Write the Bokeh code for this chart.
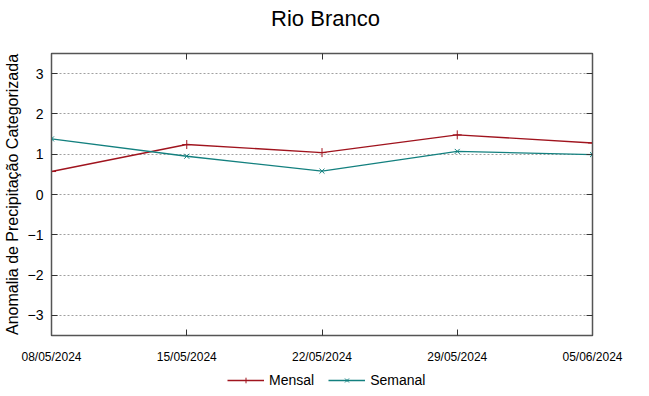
from bokeh.plotting import figure
from bokeh.layouts import column
from bokeh.models import (FixedTicker, LinearAxis, Legend, LegendItem, Range1d, Label)
from bokeh.embed import file_html
from bokeh.resources import INLINE

title_text = "Rio Branco"
dates = ["08/05/2024", "15/05/2024", "22/05/2024", "29/05/2024", "05/06/2024"]
days = [0, 7, 14, 21, 28]
mensal = [0.57, 1.24, 1.04, 1.48, 1.28]
semanal = [1.38, 0.95, 0.58, 1.07, 0.99]
yticks = [-3, -2, -1, 0, 1, 2, 3]

RED = "#a0141e"
TEAL = "#13807f"
FONT = "Liberation Sans"

# title strip
tp = figure(width=633, height=36, output_backend="svg", toolbar_location=None,
            x_range=Range1d(0, 1), y_range=Range1d(0, 1),
            min_border_left=0, min_border_right=0, min_border_top=0,
            min_border_bottom=0, outline_line_color=None)
tp.axis.visible = False
tp.grid.visible = False
tp.add_layout(Label(x=274, y=18, x_units="screen", y_units="screen", text=title_text,
                    text_align="center", text_baseline="middle",
                    text_font=FONT, text_font_size="22px", text_color="#000000"))

p = figure(width=633, height=330, output_backend="svg", toolbar_location=None,
           x_range=Range1d(0, 28), y_range=Range1d(-3.5, 3.5),
           min_border_left=42, min_border_right=41, min_border_top=17,
           min_border_bottom=31)

p.outline_line_color = "#555555"
p.outline_line_width = 1.5

p.xgrid.visible = False
p.ygrid.grid_line_color = "#a0a0a0"
p.ygrid.grid_line_dash = "2 2"
p.ygrid.ticker = FixedTicker(ticks=yticks)

xa = p.xaxis[0]
xa.ticker = FixedTicker(ticks=days)
xa.major_label_overrides = {d: s for d, s in zip(days, dates)}
xa.major_label_text_font = FONT
xa.major_label_text_font_size = "12px"
xa.major_label_text_color = "#000000"
xa.major_label_standoff = 14
xa.major_tick_in = 6
xa.major_tick_out = 0
xa.minor_tick_line_color = None
xa.axis_line_color = "#555555"
xa.major_tick_line_color = "#333333"

ya = p.yaxis[0]
ya.ticker = FixedTicker(ticks=yticks)
ya.major_label_text_font = FONT
ya.major_label_text_font_size = "14px"
ya.major_label_text_color = "#000000"
ya.major_label_standoff = 8
ya.major_tick_in = 6
ya.major_tick_out = 0
ya.minor_tick_line_color = None
ya.axis_line_color = "#555555"
ya.major_tick_line_color = "#333333"
ya.axis_label = "Anomalia de Precipitação Categorizada"
ya.axis_label_text_font = FONT
ya.axis_label_text_font_size = "16px"
ya.axis_label_text_font_style = "normal"
ya.axis_label_text_color = "#000000"
ya.axis_label_standoff = 4

ra = LinearAxis(ticker=FixedTicker(ticks=yticks), major_label_text_font_size="8px",
                major_label_text_alpha=0,
                major_tick_in=6, major_tick_out=0, minor_tick_line_color=None,
                axis_line_color="#555555", major_tick_line_color="#333333",
                major_label_standoff=0)
p.add_layout(ra, "right")
ta = LinearAxis(ticker=FixedTicker(ticks=days), major_label_text_font_size="8px",
                major_label_text_alpha=0,
                major_tick_in=6, major_tick_out=0, minor_tick_line_color=None,
                axis_line_color="#555555", major_tick_line_color="#333333",
                major_label_standoff=0)
p.add_layout(ta, "above")

p.line(days, mensal, line_color=RED, line_width=1.4)
p.scatter(days, mensal, marker="cross", size=9, line_color=RED, line_width=1)
p.line(days, semanal, line_color=TEAL, line_width=1.4)
p.scatter(days, semanal, marker="x", size=7, line_color=TEAL, line_width=1)

# legend strip below the chart (renderers kept out of view)
lg = figure(width=633, height=22, output_backend="svg", toolbar_location=None,
            x_range=Range1d(1000, 1001), y_range=Range1d(1000, 1001),
            min_border_left=0, min_border_right=0, min_border_top=0,
            min_border_bottom=0, outline_line_color=None)
lg.axis.visible = False
lg.grid.visible = False
l1 = lg.line(days, mensal, line_color=RED, line_width=1.4)
m1 = lg.scatter(days, mensal, marker="cross", size=9, line_color=RED, line_width=1)
l2 = lg.line(days, semanal, line_color=TEAL, line_width=1.4)
m2 = lg.scatter(days, semanal, marker="x", size=7, line_color=TEAL, line_width=1)

legend = Legend(items=[
    LegendItem(label="Mensal", renderers=[l1, m1]),
    LegendItem(label="Semanal", renderers=[l2, m2]),
], orientation="horizontal", location=(176, 0),
    glyph_width=37, glyph_height=14, label_standoff=5, spacing=14, padding=0, margin=0,
    border_line_color=None, background_fill_alpha=0,
    label_text_font=FONT, label_text_font_size="14px", label_text_color="#000000")
lg.add_layout(legend, "center")

layout = column(tp, p, lg, spacing=0)
open("out.html", "w").write(file_html(layout, INLINE))
